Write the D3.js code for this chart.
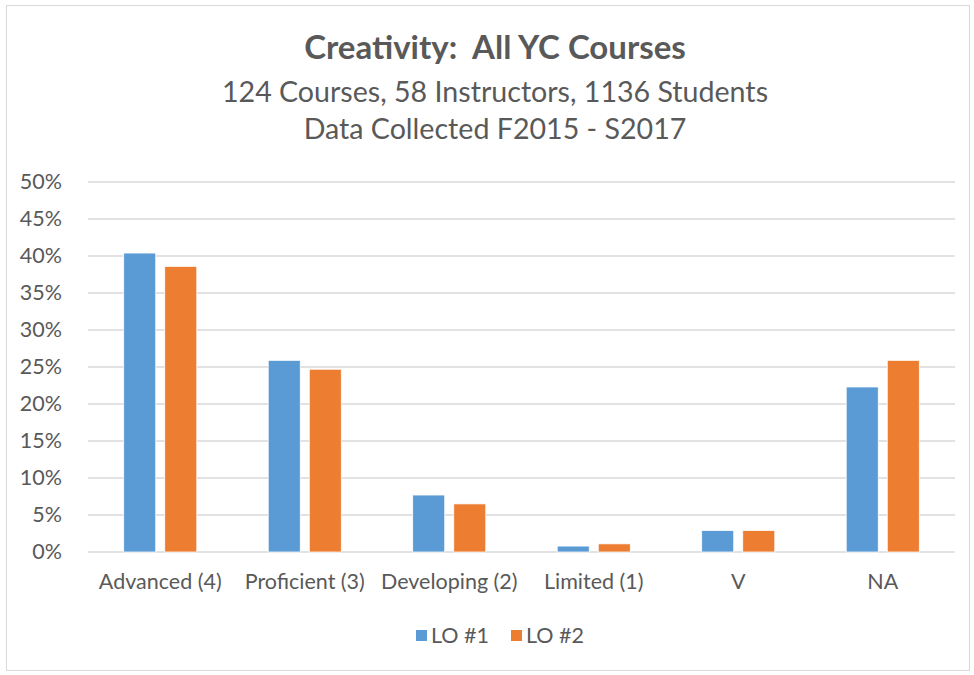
<!DOCTYPE html>
<html>
<head>
<meta charset="utf-8">
<script src="https://cdn.jsdelivr.net/npm/d3@7"></script>
<style>
  body { margin: 0; background: #fff; }
  svg text { font-family: Lato, "Open Sans", sans-serif; fill: #595959; white-space: pre; }
</style>
</head>
<body>
<svg class="chart"></svg>
<script>
// categories and series
let categories = ["Advanced (4)", "Proficient (3)", "Developing (2)", "Limited (1)", "V", "NA"]
let seriesNames = ["LO #1", "LO #2"]
let lo1 = [40.4, 25.9, 7.7, 0.8, 2.9, 22.3]
let lo2 = [38.6, 24.7, 6.5, 1.1, 2.9, 25.9]
let yTicks = [0, 5, 10, 15, 20, 25, 30, 35, 40, 45, 50]
let colors = ["#5B9BD5", "#ED7D31"]

let data = categories.map((c, i) => ({ cat: c, values: [lo1[i], lo2[i]] }))

let width = 974, height = 675
let margin = { top: 182, right: 19, bottom: 123, left: 88 }
let innerW = width - margin.left - margin.right
let innerH = height - margin.top - margin.bottom

let svg = d3.select('.chart')
    .attr('width', width)
    .attr('height', height)

// chart border
svg.append('rect')
    .attr('x', 6.5).attr('y', 5.5)
    .attr('width', 963).attr('height', 665)
    .attr('fill', '#fff')
    .attr('stroke', '#d9d9d9')

// titles
svg.append('text')
    .attr('x', 495).attr('y', 59)
    .attr('text-anchor', 'middle')
    .attr('font-size', 33)
    .attr('font-weight', 'bold')
    .text('Creativity:  All YC Courses')

svg.append('text')
    .attr('x', 495).attr('y', 102)
    .attr('text-anchor', 'middle')
    .attr('font-size', 28.6)
    .text('124 Courses, 58 Instructors, 1136 Students')

svg.append('text')
    .attr('x', 495).attr('y', 139)
    .attr('text-anchor', 'middle')
    .attr('font-size', 28.6)
    .text('Data Collected F2015 - S2017')

let chart = svg.append('g')
    .attr('transform', 'translate(' + margin.left + ',' + margin.top + ')')

let x0 = d3.scaleBand().domain(categories).range([0, innerW]).padding(0)
let x1 = d3.scaleBand().domain([0, 1]).range([0, x0.bandwidth()])
    .paddingInner(0.22).paddingOuter(0.87)
let y = d3.scaleLinear().domain([0, 50]).range([innerH, 0])

// gridlines
chart.append('g').attr('class', 'grid')
    .selectAll('line')
    .data(yTicks)
    .enter().append('line')
    .attr('x1', 0).attr('x2', innerW)
    .attr('y1', d => y(d)).attr('y2', d => y(d))
    .attr('stroke', '#d9d9d9')
    .attr('stroke-width', 1.5)

// y axis labels
let yAxis = chart.append('g').attr('class', 'axis y')
    .attr('transform', 'translate(-23,0)')
    .call(d3.axisLeft(y).tickValues(yTicks).tickFormat(d => d + '%').tickSize(0))
yAxis.select('.domain').remove()
yAxis.selectAll('text')
    .attr('font-size', 21.5)
    .attr('fill', '#595959')
    .style('font-family', 'Lato, sans-serif')

// x axis labels
let xAxis = chart.append('g').attr('class', 'axis x')
    .attr('transform', 'translate(0,' + innerH + ')')
    .call(d3.axisBottom(x0).tickSize(0).tickPadding(22))
xAxis.select('.domain').remove()
xAxis.selectAll('text')
    .attr('font-size', 21.5)
    .attr('fill', '#595959')
    .style('font-family', 'Lato, sans-serif')

// bars
let groups = chart.selectAll('.group')
    .data(data)
    .enter().append('g')
    .attr('class', 'group')
    .attr('transform', d => 'translate(' + x0(d.cat) + ',0)')

groups.selectAll('rect')
    .data(d => d.values.map((v, i) => ({ i: i, v: v })))
    .enter().append('rect')
    .attr('x', d => x1(d.i))
    .attr('y', d => y(d.v))
    .attr('width', x1.bandwidth())
    .attr('height', d => innerH - y(d.v))
    .attr('fill', d => colors[d.i])
    .attr('stroke', '#fff')
    .attr('stroke-width', 0.75)

// legend
let legend = svg.append('g').attr('class', 'legend')
    .attr('transform', 'translate(416,630)')
let legendX = [0, 95]
seriesNames.forEach((name, i) => {
  let item = legend.append('g').attr('transform', 'translate(' + legendX[i] + ',0)')
  item.append('rect')
      .attr('width', 11).attr('height', 11)
      .attr('fill', colors[i])
  item.append('text')
      .attr('x', 15).attr('y', 13)
      .attr('font-size', 21.5)
      .text(name)
})
</script>
</body>
</html>
